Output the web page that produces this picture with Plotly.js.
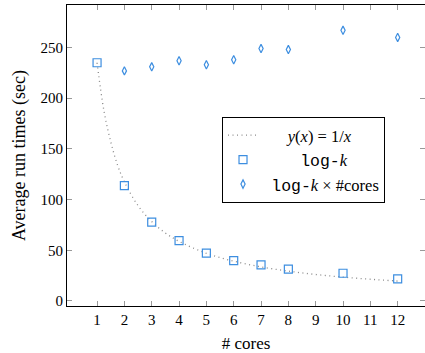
<!DOCTYPE html>
<html>
<head>
<script src="https://cdn.plot.ly/plotly-3.0.1.min.js"></script>
<style>html,body{margin:0;padding:0;background:#fff}</style>
</head>
<body>
<div id="chart" style="width:425px;height:353px"></div>
<script>
// reference curve y(x) = 1/x (scaled)
var curveX = [1, 1.25, 1.5, 1.75, 2, 2.5, 3, 3.5, 4, 5, 6, 7, 8, 9, 10, 11, 12];
var curveY = [235, 188, 157, 134, 117.5, 94, 78.3, 67, 58.8, 47, 39.2, 33.6, 29.4, 26.1, 23.5, 21.4, 19.6];
// log-k measurements
var cores = [1, 2, 3, 4, 5, 6, 7, 8, 10, 12];
var logK = [235, 113.8, 77.7, 59.5, 47.1, 39.8, 35.5, 31.3, 27.3, 21.7];
// log-k x #cores
var coresMulti = [2, 3, 4, 5, 6, 7, 8, 10, 12];
var logKxCores = [227, 231, 237, 233, 238, 249, 248, 267, 260];
var xTicks = [1, 2, 3, 4, 5, 6, 7, 8, 9, 10, 11, 12];
var yTicks = [0, 50, 100, 150, 200, 250];

var blue = '#3d8ee0';
var serif = '"Liberation Serif", "DejaVu Serif", serif';
var mono = 'font-family:\'Liberation Mono\', \'DejaVu Sans Mono\', monospace';

var traces = [
  {x: curveX, y: curveY, mode: 'lines', line: {shape: 'spline', color: '#8a8a8a', width: 1.3, dash: '1px,3.5px'},
   name: '      <i>y</i>(<i>x</i>) = 1/<i>x</i>'},
  {x: cores, y: logK, mode: 'markers', marker: {symbol: 'square-open', size: 8, color: blue, line: {width: 1.2}},
   name: '         <span style="' + mono + '">log-</span><i>k</i>'},
  {x: coresMulti, y: logKxCores, mode: 'markers', marker: {symbol: 'diamond-tall-open', size: 6, color: blue, line: {width: 1.2}},
   name: '  <span style="' + mono + '">log-</span><i>k</i> × #cores'}
];

var layout = {
  width: 425, height: 353,
  margin: {l: 67, r: 0, t: 5, b: 47},
  paper_bgcolor: '#fff', plot_bgcolor: '#fff',
  font: {family: serif, size: 15, color: '#000'},
  showlegend: true,
  legend: {x: 0.433, y: 0.628, xanchor: 'left', yanchor: 'top', bgcolor: '#fff',
           bordercolor: '#000', borderwidth: 1, font: {family: serif, size: 16.5},
           tracegroupgap: 0, itemwidth: 30},
  xaxis: {range: [-0.1, 13.0], tickvals: xTicks, ticktext: xTicks.map(String),
          ticks: 'inside', ticklen: 5, tickcolor: '#999', tickwidth: 1,
          showline: true, linecolor: '#000', linewidth: 1, mirror: 'ticks',
          showgrid: false, zeroline: false, tickfont: {size: 15},
          title: {text: '# cores', font: {family: serif, size: 17}, standoff: 12}},
  yaxis: {range: [-5, 292], tickvals: yTicks, ticktext: yTicks.map(String),
          ticks: 'inside', ticklen: 5, tickcolor: '#999', tickwidth: 1,
          showline: true, linecolor: '#000', linewidth: 1, mirror: 'ticks',
          showgrid: false, zeroline: false, tickfont: {size: 15},
          title: {text: 'Average run times (sec)', font: {family: serif, size: 18}, standoff: 10}}
};

Plotly.newPlot('chart', traces, layout, {displayModeBar: false, staticPlot: true});
</script>
</body>
</html>
